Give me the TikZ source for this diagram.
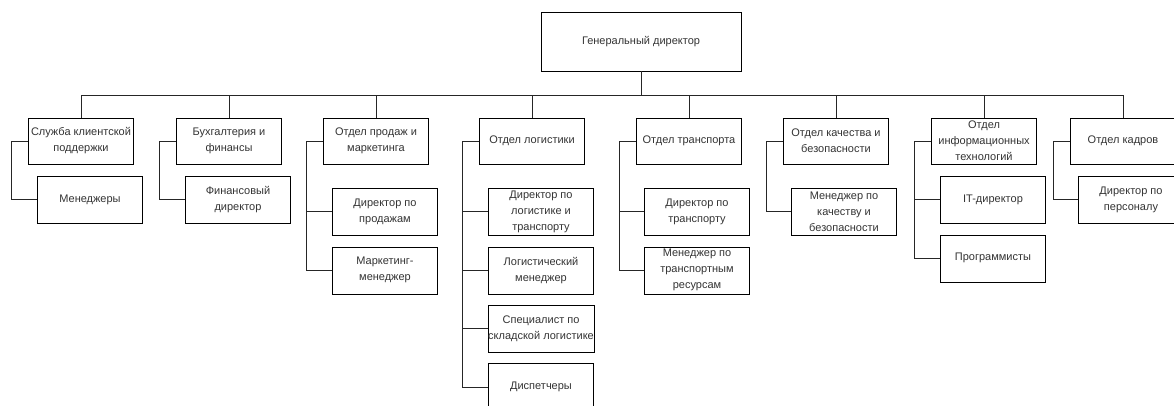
\documentclass[tikz,border=0pt]{standalone}
\usepackage{fontspec}
\setmainfont{Liberation Sans}
\usetikzlibrary{positioning}

\begin{document}
\begin{tikzpicture}[
        x=1pt, y=-1pt,
        node distance=11pt,
        head/.style={draw, rectangle, minimum width=200pt, minimum height=59pt, inner sep=0pt, align=center, font=\fontsize{11}{16}\selectfont, text=black!80},
        dept/.style={draw, rectangle, minimum width=105pt, minimum height=46pt, inner sep=0pt, align=center, font=\fontsize{11}{16}\selectfont, text=black!80},
        staff/.style={draw, rectangle, minimum width=105pt, minimum height=47pt, inner sep=0pt, align=center, font=\fontsize{11}{16}\selectfont, text=black!80},
        link/.style={draw=black!85, line width=0.9pt}
    ]
    \useasboundingbox (0,0) rectangle (1174,405);

    \node[head] (CEO) at (641,41.5) {Генеральный директор};
    \coordinate[below=24pt of CEO.south] (Bus);

    \node[dept] (Support) at (81,141) {Служба клиентской\\поддержки};
    \node[dept] (Finance) at (229,141) {Бухгалтерия и\\финансы};
    \node[dept] (Sales) at (376,141) {Отдел продаж и\\маркетинга};
    \node[dept] (Logistics) at (532,141) {Отдел логистики};
    \node[dept] (Transport) at (689,141) {Отдел транспорта};
    \node[dept] (Quality) at (836,141) {Отдел качества и\\безопасности};
    \node[dept] (IT) at (984,141) {Отдел\\информационных\\технологий};
    \node[dept] (HR) at (1123,141) {Отдел кадров};

    \node[staff, below=12pt of Support.south west, anchor=north west, xshift=9pt] (Managers) {Менеджеры};
    \node[staff, below=12pt of Finance.south west, anchor=north west, xshift=9pt] (FinDir) {Финансовый\\директор};
    \node[staff, below=24pt of Sales.south west, anchor=north west, xshift=9pt] (SalesDir) {Директор по\\продажам};
    \node[staff, below=of SalesDir] (MarketMgr) {Маркетинг-\\менеджер};
    \node[staff, below=24pt of Logistics.south west, anchor=north west, xshift=9pt] (LogDir) {Директор по\\логистике и\\транспорту};
    \node[staff, below=of LogDir] (LogMgr) {Логистический\\менеджер};
    \node[staff, below=of LogMgr] (StoreSpec) {Специалист по\\складской логистике};
    \node[staff, below=of StoreSpec] (Dispatch) {Диспетчеры};
    \node[staff, below=24pt of Transport.south west, anchor=north west, xshift=8pt] (TransDir) {Директор по\\транспорту};
    \node[staff, below=of TransDir] (TransMgr) {Менеджер по\\транспортным\\ресурсам};
    \node[staff, below=24pt of Quality.south west, anchor=north west, xshift=8pt] (QualMgr) {Менеджер по\\качеству и\\безопасности};
    \node[staff, below=12pt of IT.south west, anchor=north west, xshift=9pt] (ITDir) {IT-директор};
    \node[staff, below=of ITDir] (Devs) {Программисты};
    \node[staff, below=12pt of HR.south west, anchor=north west, xshift=8pt] (HRDir) {Директор по\\персоналу};

    \draw[link] (CEO) -- (Bus);
    \foreach \d in {Support, Finance, Sales, Logistics, Transport, Quality, IT, HR}
        \draw[link] (Bus) -| (\d.north);

    \foreach \d/\s in {Support/Managers, Finance/FinDir, Sales/SalesDir, Sales/MarketMgr,
                       Logistics/LogDir, Logistics/LogMgr, Logistics/StoreSpec, Logistics/Dispatch,
                       Transport/TransDir, Transport/TransMgr, Quality/QualMgr,
                       IT/ITDir, IT/Devs, HR/HRDir}
        \draw[link] (\d.west) -- ++(-17,0) |- (\s.west);

\end{tikzpicture}
\end{document}
